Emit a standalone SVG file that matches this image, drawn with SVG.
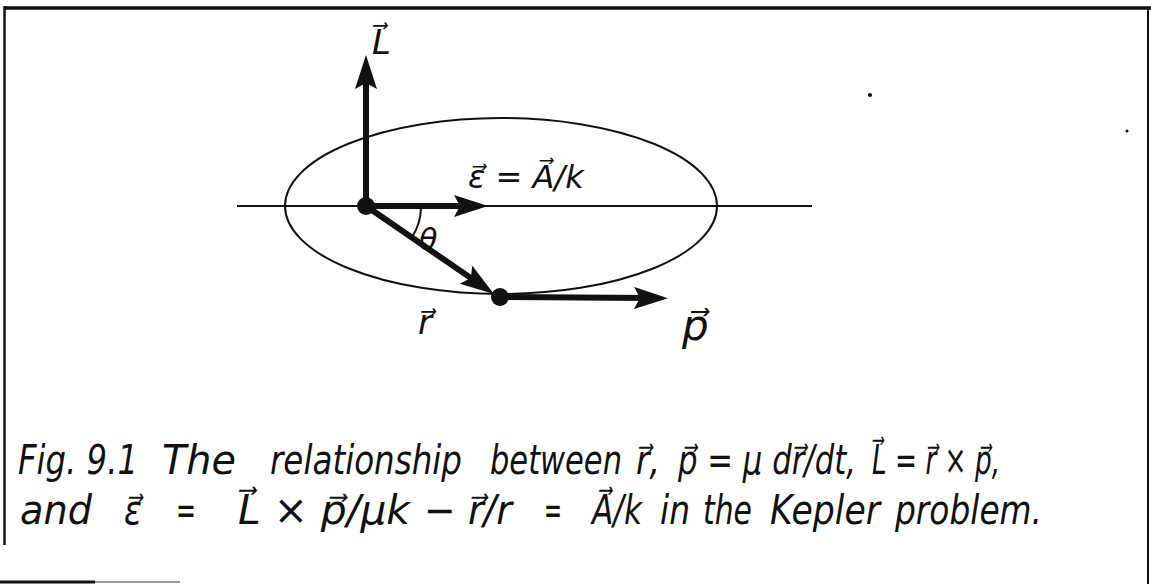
<svg xmlns="http://www.w3.org/2000/svg" width="1151" height="584" viewBox="0 0 1151 584">
<style>
.frame{stroke:#111;fill:none}
.thin{stroke:#111;fill:none;stroke-width:2}
.vec{stroke:#111;fill:none;stroke-width:6;marker-end:url(#ah)}
.dot{fill:#111}
.hand{font-family:"DejaVu Sans",sans-serif;font-style:italic;fill:#111}
</style>
<defs>
<marker id="ah" markerUnits="userSpaceOnUse" markerWidth="36" markerHeight="24" refX="14" refY="11" orient="auto">
<path d="M0,0 L34,11 L0,22 L6,11 z" fill="#111"/>
</marker>
</defs>
<rect width="1151" height="584" fill="#fff"/>
<g id="frame">
<line class="frame" x1="5" y1="8" x2="1151" y2="8" stroke-width="3.5"/>
<line class="frame" x1="4.5" y1="6" x2="4.5" y2="545" stroke-width="2.5"/>
<line class="frame" x1="1148" y1="8" x2="1148" y2="584" stroke-width="2"/>
<line class="frame" x1="0" y1="582" x2="95" y2="582" stroke-width="3"/>
<line x1="95" y1="582" x2="180" y2="582" stroke="#999" stroke-width="2"/>
</g>
<g id="orbit">
<ellipse class="thin" cx="501" cy="206" rx="216" ry="88"/>
</g>
<g id="axis">
<line x1="237" y1="206" x2="812" y2="206" stroke="#111" stroke-width="1.8"/>
</g>
<g id="connectors">
<line class="vec" x1="366" y1="206" x2="366" y2="75"/>
<line class="vec" x1="366" y1="206" x2="468" y2="206"/>
<line class="vec" x1="366" y1="206" x2="477.5" y2="282.6"/>
<line class="vec" x1="500" y1="297" x2="648" y2="298"/>
<path class="thin" d="M421,208 A55,55 0 0 1 412,237"/>
</g>
<g id="origin"><circle class="dot" cx="366" cy="206" r="9"/></g>
<g id="planet"><circle class="dot" cx="500" cy="297" r="9"/></g>
<g id="labels">
<text class="hand" x="372" y="54" font-size="34">L⃗</text>
<text class="hand" x="468" y="188" font-size="32">ε⃗ = A⃗/k</text>
<text class="hand" x="419" y="250" font-size="30" font-style="normal">θ</text>
<text class="hand" x="418" y="334" font-size="34">r⃗</text>
<text class="hand" x="682" y="340" font-size="42">p⃗</text>
</g>
<g id="caption" transform="scale(0.8,1)">
<text class="hand" y="474" font-size="40"><tspan x="22.5" textLength="150" lengthAdjust="spacingAndGlyphs">Fig. 9.1</tspan><tspan x="202.5" textLength="92.5" lengthAdjust="spacingAndGlyphs">The</tspan><tspan x="337.5" textLength="240" lengthAdjust="spacingAndGlyphs">relationship</tspan><tspan x="612.5" textLength="165" lengthAdjust="spacingAndGlyphs">between</tspan><tspan x="795" textLength="30" lengthAdjust="spacingAndGlyphs">r⃗,</tspan><tspan x="847.5" textLength="222.5" lengthAdjust="spacingAndGlyphs">p⃗ = μ dr⃗/dt,</tspan><tspan x="1090" textLength="160" lengthAdjust="spacingAndGlyphs">L⃗ = r⃗ × p⃗,</tspan></text>
<text class="hand" y="524" font-size="40"><tspan x="25" textLength="90" lengthAdjust="spacingAndGlyphs">and</tspan><tspan x="155" textLength="22.5" lengthAdjust="spacingAndGlyphs">ε⃗</tspan><tspan x="220" textLength="25" lengthAdjust="spacingAndGlyphs">=</tspan><tspan x="297.5" textLength="215" lengthAdjust="spacingAndGlyphs">L⃗ × p⃗/μk</tspan><tspan x="530" textLength="110" lengthAdjust="spacingAndGlyphs">− r⃗/r</tspan><tspan x="680" textLength="22.5" lengthAdjust="spacingAndGlyphs">=</tspan><tspan x="740" textLength="62.5" lengthAdjust="spacingAndGlyphs">A⃗/k</tspan><tspan x="825" textLength="37.5" lengthAdjust="spacingAndGlyphs">in</tspan><tspan x="878.75" textLength="61.25" lengthAdjust="spacingAndGlyphs">the</tspan><tspan x="962.5" textLength="137.5" lengthAdjust="spacingAndGlyphs">Kepler</tspan><tspan x="1118.75" textLength="183.75" lengthAdjust="spacingAndGlyphs">problem.</tspan></text>
</g>
<circle cx="870" cy="95" r="2" fill="#111"/>
<circle cx="1127" cy="131" r="1.5" fill="#111"/>
</svg>
